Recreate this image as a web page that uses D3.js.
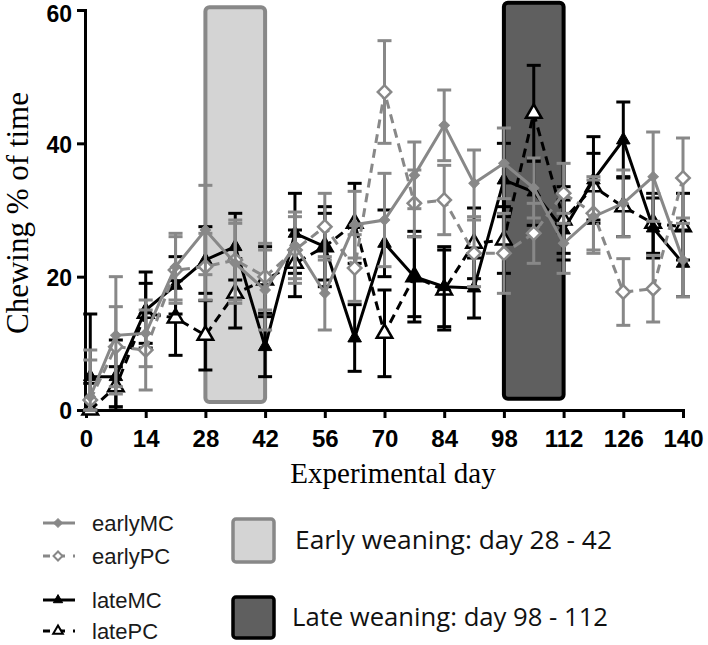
<!DOCTYPE html>
<html>
<head>
<meta charset="utf-8">
<script src="https://cdn.jsdelivr.net/npm/d3@7"></script>
<style>
  body { margin: 0; background: #fff; }
  svg { display: block; }
</style>
</head>
<body>
<div class="chart"></div>
<script>
// sampling days
const days = [1, 7, 14, 21, 28, 35, 42, 49, 56, 63, 70, 77, 84, 91, 98, 105, 112, 119, 126, 133, 140];

// means (% of time chewing)
const earlyMC = [2, 11.2, 11.5, 21.5, 27, 22, 18, 24.7, 17.5, 27.8, 28.5, 35.2, 42.7, 34, 37, 33.3, 25, 29, 31, 35, 22.5];
const earlyPC = [1.5, 9.5, 9, 21, 21.5, 22.5, 20, 24, 27.5, 21.3, 47.7, 31, 31.5, 23.5, 23.5, 26.5, 32.5, 29.5, 17.7, 18.2, 34.8];
const lateMC = [5, 5, 15, 18.7, 22.5, 24.5, 9.5, 26.5, 24.5, 10.8, 25, 20, 18.5, 18.3, 34.5, 32.7, 27, 34.5, 40.5, 27.3, 22];
const latePC = [0, 3.5, 14.5, 13.8, 11.2, 17.5, 19.5, 22, 24.5, 28, 11.5, 20, 18, 25, 25.5, 44.5, 28.5, 33.5, 30.5, 28, 27.5];

// error (SEM)
const earlyMCErr = [7, 8.8, 5, 5, 6.7, 6, 6, 5, 5.5, 5, 7, 5, 5.3, 5, 5.3, 4.5, 4.5, 5.5, 5, 6.7, 5.5];
const earlyPCErr = [6, 6, 6, 5, 5, 6, 5, 5, 5, 5, 7.7, 5, 5.2, 5, 6, 4.5, 4.5, 5.5, 5, 5, 6];
const lateMCErr = [9.4, 5.5, 5.7, 4.3, 5, 5, 4.5, 6, 6, 5, 5, 6.8, 6, 4.5, 5.5, 5, 4.5, 6.5, 5.7, 4.5, 5];
const latePCErr = [4, 3, 4.5, 5.6, 5.2, 5.2, 5, 5, 5, 6, 6.5, 6, 6, 5.3, 5, 7.2, 5, 5, 4.5, 4.5, 5];

// weaning periods
const periods = [[28, 42], [98, 112]];
const periodNames = ["Early weaning: day 28 - 42", "Late weaning: day 98 - 112"];

const xTicks = [0, 14, 28, 42, 56, 70, 84, 98, 112, 126, 140];
const yTicks = [0, 20, 40, 60];

const W = 708, H = 645;
const grey = "#888888";

const svg = d3.select(".chart").append("svg")
    .attr("width", W)
    .attr("height", H);

const x = d3.scaleLinear().domain([0, 140]).range([86, 683]);
const y = d3.scaleLinear().domain([0, 60]).range([410, 10]);

// weaning boxes
const boxFill = ["#d4d4d4", "#5f5f5f"];
const boxStroke = [grey, "#000"];
svg.selectAll("rect.period")
    .data(periods)
    .enter()
    .append("rect")
    .attr("class", "period")
    .attr("x", d => x(d[0]))
    .attr("y", (d, i) => y(i == 0 ? 60.4 : 61.1))
    .attr("width", d => x(d[1]) - x(d[0]))
    .attr("height", (d, i) => i == 0 ? y(1.2) - y(60.4) : y(1.7) - y(61.1))
    .attr("rx", 4)
    .attr("fill", (d, i) => boxFill[i])
    .attr("stroke", (d, i) => boxStroke[i])
    .attr("stroke-width", 4);

// axes
const xAxis = svg.append("g")
    .attr("transform", "translate(0," + y(0) + ")")
    .call(d3.axisBottom(x).tickValues(xTicks).tickSize(8).tickPadding(12));
const yAxis = svg.append("g")
    .attr("transform", "translate(" + (x(0) - 1) + ",0)")
    .call(d3.axisLeft(y).tickValues(yTicks).tickSize(8).tickPadding(5));

[xAxis, yAxis].forEach(g => {
    g.select(".domain").attr("stroke-width", 3).attr("stroke", "#000");
    g.selectAll(".tick line").attr("stroke-width", 3).attr("stroke", "#000");
    g.selectAll(".tick text")
        .attr("font-family", "Liberation Sans, Arial, sans-serif")
        .attr("font-weight", "bold")
        .attr("font-size", 24)
        .attr("fill", "#000");
});
yAxis.selectAll(".tick text")
    .attr("font-size", 23)
    .attr("dy", d => d == 60 ? "0.48em" : "0.38em");

svg.append("text")
    .attr("text-anchor", "middle")
    .attr("transform", "translate(28, 213) rotate(-90)")
    .attr("font-family", "Liberation Serif, Times New Roman, serif")
    .attr("font-size", 31)
    .text("Chewing % of time");

svg.append("text")
    .attr("x", 393)
    .attr("y", 483)
    .attr("text-anchor", "middle")
    .attr("font-family", "Liberation Serif, Times New Roman, serif")
    .attr("font-size", 29)
    .text("Experimental day");

// series
const diamond = d3.symbolSquare; // drawn rotated 45deg
const series = [
    { name: "latePC", vals: latePC, err: latePCErr, color: "#000", dash: "9,6", sym: d3.symbolTriangle, rot: 0, open: true, size: 105 },
    { name: "lateMC", vals: lateMC, err: lateMCErr, color: "#000", dash: null, sym: d3.symbolTriangle, rot: 0, open: false, size: 80 },
    { name: "earlyPC", vals: earlyPC, err: earlyPCErr, color: grey, dash: "9,6", sym: diamond, rot: 45, open: true, size: 90 },
    { name: "earlyMC", vals: earlyMC, err: earlyMCErr, color: grey, dash: null, sym: diamond, rot: 45, open: false, size: 55 }
];

const line = d3.line()
    .x(d => x(d[0]))
    .y(d => y(d[1]));

series.forEach(s => {
    const pts = days.map((d, i) => [d, s.vals[i], s.err[i]]);
    const g = svg.append("g").attr("class", s.name);

    // error bars
    const eb = g.selectAll("g.err")
        .data(pts)
        .enter()
        .append("g")
        .attr("stroke", s.color)
        .attr("stroke-width", 3);
    eb.append("line")
        .attr("x1", d => x(d[0]))
        .attr("x2", d => x(d[0]))
        .attr("y1", d => y(d[1] + d[2]))
        .attr("y2", d => y(Math.max(0, d[1] - d[2])));
    eb.append("line")
        .attr("x1", d => x(d[0]) - 7)
        .attr("x2", d => x(d[0]) + 7)
        .attr("y1", d => y(d[1] + d[2]))
        .attr("y2", d => y(d[1] + d[2]));
    eb.append("line")
        .attr("x1", d => x(d[0]) - 7)
        .attr("x2", d => x(d[0]) + 7)
        .attr("y1", d => y(Math.max(0, d[1] - d[2])))
        .attr("y2", d => y(Math.max(0, d[1] - d[2])));

    g.append("path")
        .datum(pts)
        .attr("d", line)
        .attr("fill", "none")
        .attr("stroke", s.color)
        .attr("stroke-width", 3)
        .attr("stroke-dasharray", s.dash);

    g.selectAll("path.pt")
        .data(pts)
        .enter()
        .append("path")
        .attr("class", "pt")
        .attr("d", d3.symbol().type(s.sym).size(s.size))
        .attr("transform", d => "translate(" + x(d[0]) + "," + y(d[1]) + ") rotate(" + s.rot + ")")
        .attr("fill", s.open ? "#fff" : s.color)
        .attr("stroke", s.color)
        .attr("stroke-width", s.open ? 2.5 : 1);
});

// legend
const legendY = [523, 556, 600, 631];
const legendSeries = [series[3], series[2], series[1], series[0]];
const leg = svg.selectAll("g.leg")
    .data(legendSeries)
    .enter()
    .append("g")
    .attr("class", "leg")
    .attr("transform", (d, i) => "translate(0," + legendY[i] + ")");
leg.append("line")
    .attr("x1", 43)
    .attr("x2", 75)
    .attr("stroke", d => d.color)
    .attr("stroke-width", 3)
    .attr("stroke-dasharray", d => d.dash ? "7,8" : null);
leg.append("path")
    .attr("d", d => d3.symbol().type(d.sym).size(d.open ? 40 : 38)())
    .attr("transform", d => "translate(58,0) rotate(" + d.rot + ")")
    .attr("fill", d => d.open ? "#fff" : d.color)
    .attr("stroke", d => d.color)
    .attr("stroke-width", d => d.open ? 2 : 1);
leg.append("text")
    .attr("x", 92)
    .attr("dy", "0.36em")
    .attr("font-family", "Liberation Sans, Arial, sans-serif")
    .attr("font-size", 22)
    .attr("fill", "#1a1a1a")
    .text(d => d.name);

const boxY = [[519, 562], [597, 638]];
svg.selectAll("rect.legbox")
    .data(periods)
    .enter()
    .append("rect")
    .attr("class", "legbox")
    .attr("x", 233)
    .attr("y", (d, i) => boxY[i][0])
    .attr("width", 41)
    .attr("height", (d, i) => boxY[i][1] - boxY[i][0])
    .attr("rx", 3)
    .attr("fill", (d, i) => boxFill[i])
    .attr("stroke", (d, i) => boxStroke[i])
    .attr("stroke-width", 3.5);
svg.selectAll("text.legbox")
    .data(periodNames)
    .enter()
    .append("text")
    .attr("class", "legbox")
    .attr("x", (d, i) => i == 0 ? 295 : 292)
    .attr("y", (d, i) => i == 0 ? 540 : 617)
    .attr("dy", "0.36em")
    .attr("font-family", "Open Sans, Liberation Sans, sans-serif")
    .attr("font-size", 25)
    .attr("textLength", (d, i) => i == 0 ? 317 : 316)
    .attr("lengthAdjust", "spacingAndGlyphs")
    .attr("fill", "#111")
    .text(d => d);
</script>
</body>
</html>
